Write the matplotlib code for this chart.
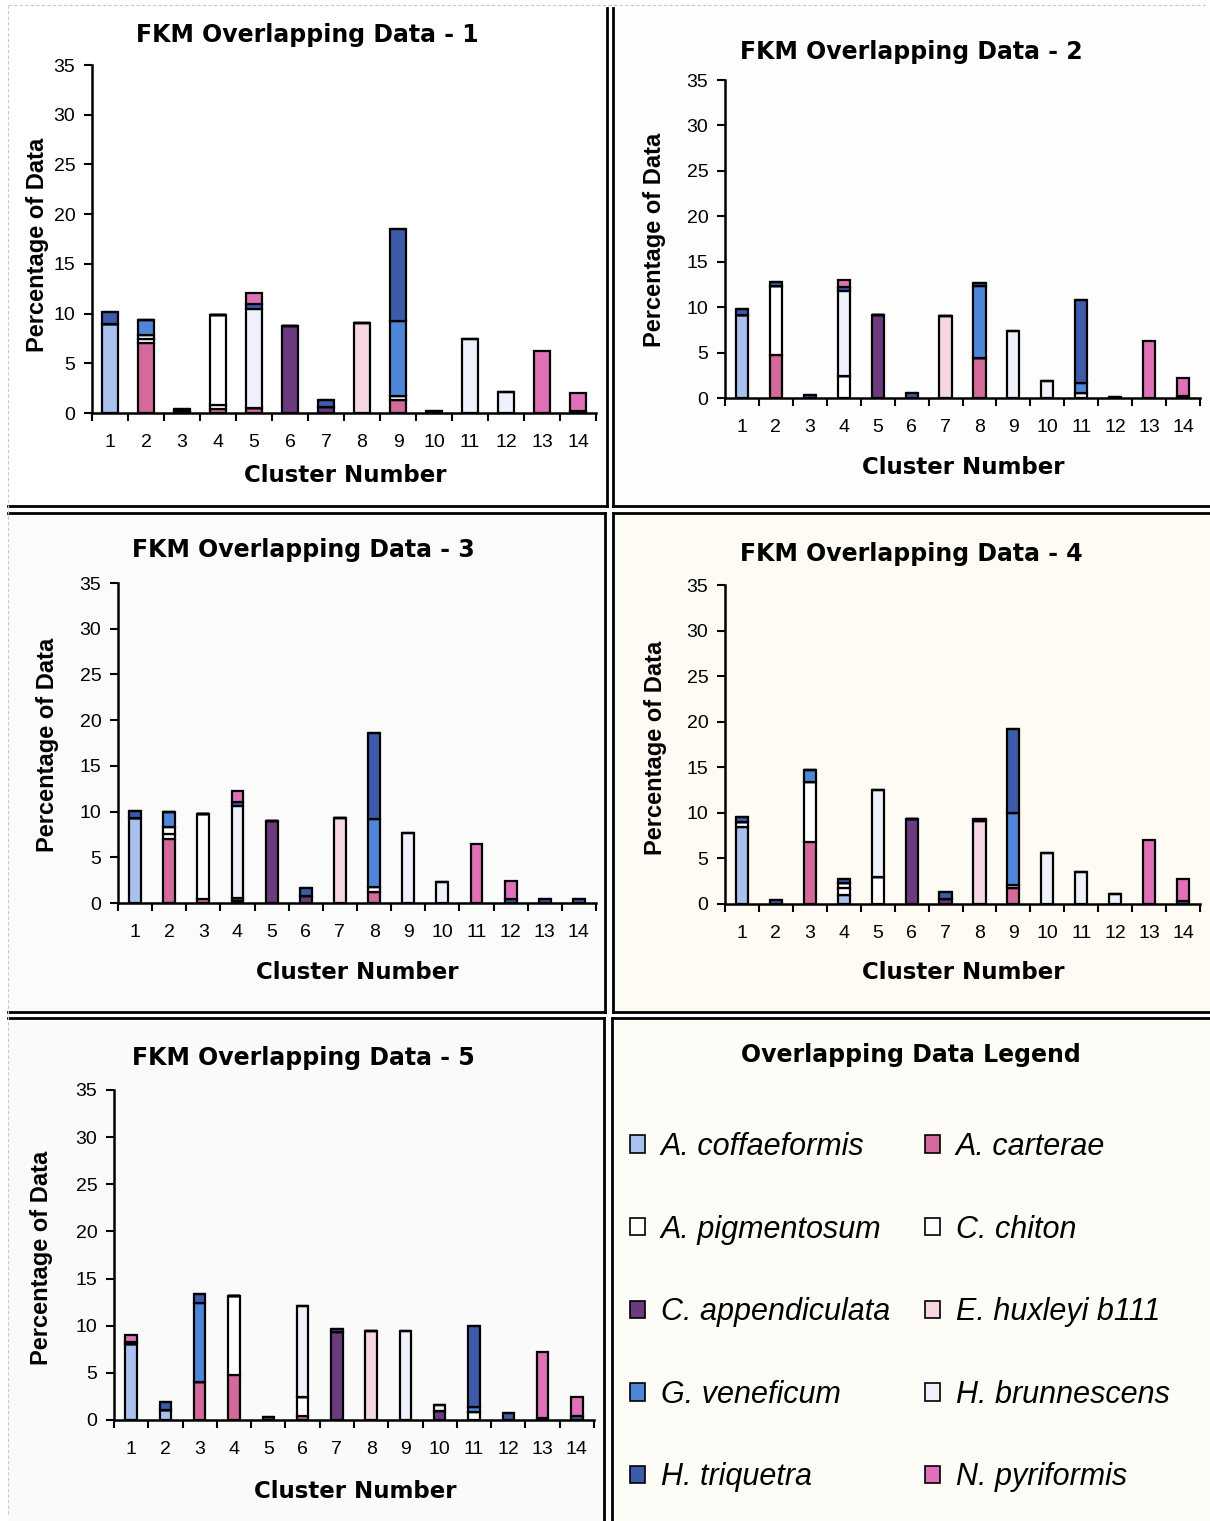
import matplotlib
matplotlib.use("Agg")
import matplotlib.pyplot as plt
from matplotlib.patches import Patch, Rectangle
from matplotlib.lines import Line2D
import numpy as np

# Species and colours (legend order)
Species = ["A. coffaeformis", "A. carterae", "A. pigmentosum", "C. chiton",
           "C. appendiculata", "E. huxleyi b111", "G. veneficum", "H. brunnescens",
           "H. triquetra", "N. pyriformis"]
Colours = ["#a9c1ee", "#d46a9c", "#ffffff", "#ffffff", "#6b3b7e",
           "#f6d6e0", "#4f86d9", "#eef0fb", "#3c5ba8", "#e070b8"]
Clusters = list(range(1, 15))
Y_Ticks = [0, 5, 10, 15, 20, 25, 30, 35]

# Percentage of data per species (rows, legend order) in each of the 14 clusters
Run1 = [
    [9.0, 0, 0, 0, 0, 0, 0, 0, 0, 0, 0, 0, 0, 0],
    [0, 7.0, 0, 0.4, 0.5, 0, 0, 0, 1.3, 0, 0, 0, 0, 0],
    [0, 0.4, 0, 0.4, 0, 0, 0, 0, 0, 0, 0, 0, 0, 0],
    [0, 0.4, 0, 9.1, 0, 0, 0, 0, 0.4, 0, 0, 0, 0, 0],
    [0, 0, 0.2, 0, 0, 8.8, 0.6, 0, 0, 0, 0, 0, 0, 0],
    [0, 0, 0, 0, 0, 0, 0, 9.1, 0, 0, 0, 0, 0, 0],
    [0, 1.6, 0, 0, 0, 0, 0, 0, 7.6, 0, 0, 0, 0, 0],
    [0, 0, 0, 0, 10.0, 0, 0, 0, 0, 0, 7.4, 2.1, 0, 0],
    [1.2, 0, 0.2, 0, 0.5, 0, 0.7, 0, 9.2, 0.2, 0, 0, 0, 0.2],
    [0, 0, 0, 0, 1.1, 0, 0, 0, 0, 0, 0, 0, 6.2, 1.8],
]
Run2 = [
    [9.1, 0, 0, 0, 0, 0, 0, 0, 0, 0, 0, 0, 0, 0],
    [0, 4.7, 0, 0, 0, 0, 0, 4.4, 0, 0, 0, 0, 0, 0],
    [0, 7.6, 0, 2.4, 0, 0, 0, 0, 0, 0, 0, 0, 0, 0],
    [0, 0, 0, 0, 0, 0, 0, 0, 0, 0, 0.6, 0, 0, 0],
    [0, 0, 0, 0, 9.1, 0, 0, 0, 0, 0, 0, 0, 0, 0],
    [0, 0, 0, 0, 0, 0, 9.0, 0, 0, 0, 0, 0, 0, 0],
    [0, 0, 0, 0, 0, 0, 0, 7.9, 0, 0, 1.0, 0, 0, 0],
    [0, 0, 0, 9.4, 0, 0, 0, 0, 7.4, 1.9, 0, 0, 0, 0],
    [0.7, 0.5, 0.3, 0.4, 0, 0.6, 0, 0.4, 0, 0, 9.2, 0.15, 0, 0.2],
    [0, 0, 0, 0.8, 0, 0, 0, 0, 0, 0, 0, 0, 6.3, 2.0],
]
Run3 = [
    [9.3, 0, 0, 0.2, 0, 0, 0, 0, 0, 0, 0, 0, 0, 0],
    [0, 7.0, 0.4, 0.3, 0, 0, 0, 1.2, 0, 0, 0, 0, 0, 0],
    [0, 0.5, 9.3, 0, 0, 0, 0, 0, 0, 0, 0, 0, 0, 0],
    [0, 0.8, 0, 0, 0, 0, 0, 0.5, 0, 0, 0, 0, 0, 0],
    [0, 0, 0, 0, 9.0, 0.8, 0, 0, 0, 0, 0, 0, 0, 0],
    [0, 0, 0, 0, 0, 0, 9.25, 0, 0, 0, 0, 0, 0, 0],
    [0, 1.6, 0, 0, 0, 0, 0, 7.5, 0, 0, 0, 0, 0, 0],
    [0, 0, 0, 10.1, 0, 0, 0, 0, 7.7, 2.3, 0, 0, 0, 0],
    [0.8, 0, 0, 0.5, 0, 0.8, 0, 9.35, 0, 0, 0, 0.4, 0.4, 0.4],
    [0, 0, 0, 1.2, 0, 0, 0, 0, 0, 0, 6.5, 2.0, 0, 0],
]
Run4 = [
    [8.5, 0, 0, 1.0, 0, 0, 0, 0, 0, 0, 0, 0, 0, 0],
    [0, 0, 6.8, 0, 0, 0, 0, 0, 1.8, 0, 0, 0, 0, 0],
    [0.5, 0, 6.6, 0.8, 3.0, 0, 0, 0, 0, 0, 0, 0, 0, 0],
    [0, 0, 0, 0.5, 0, 0, 0, 0, 0.3, 0, 0, 0, 0, 0],
    [0, 0, 0, 0, 0, 9.3, 0.6, 0, 0, 0, 0, 0, 0, 0],
    [0, 0, 0, 0, 0, 0, 0, 9.15, 0, 0, 0, 0, 0, 0],
    [0, 0, 1.3, 0, 0, 0, 0, 0, 7.9, 0, 0, 0, 0, 0],
    [0, 0, 0, 0, 9.5, 0, 0, 0, 0, 5.6, 3.5, 1.1, 0, 0],
    [0.6, 0.4, 0, 0.4, 0, 0, 0.75, 0.2, 9.2, 0, 0, 0, 0, 0.3],
    [0, 0, 0, 0, 0, 0, 0, 0, 0, 0, 0, 0, 7.0, 2.4],
]
Run5 = [
    [8.1, 1.1, 0, 0, 0, 0, 0, 0, 0, 0, 0, 0, 0, 0],
    [0, 0, 4.0, 4.8, 0, 0.4, 0, 0, 0, 0, 0, 0, 0, 0],
    [0, 0, 0, 8.3, 0, 2.0, 0, 0, 0, 0, 0, 0, 0, 0],
    [0, 0, 0, 0, 0, 0, 0, 0, 0, 0, 0.8, 0, 0, 0],
    [0, 0, 0, 0, 0, 0, 9.3, 0, 0, 1.0, 0, 0, 0, 0],
    [0, 0, 0, 0, 0, 0, 0, 9.45, 0, 0, 0, 0, 0, 0],
    [0, 0, 8.4, 0, 0, 0, 0, 0, 0, 0, 0.6, 0, 0, 0],
    [0, 0, 0, 0, 0, 9.7, 0, 0, 9.45, 0.6, 0, 0, 0, 0],
    [0.2, 0.85, 1.0, 0, 0.35, 0, 0.35, 0, 0, 0, 8.6, 0.7, 0.2, 0.4],
    [0.7, 0, 0, 0, 0, 0, 0, 0, 0, 0, 0, 0, 7.0, 2.0],
]
Runs = [Run1, Run2, Run3, Run4, Run5]

W, H = 1210, 1521
fig = plt.figure(figsize=(W / 100, H / 100), dpi=100)
fig.patch.set_facecolor("white")

def fig_x(px):
    return px / W

def fig_y(py):
    return 1 - py / H

def fig_line(x0, y0, x1, y1, **kw):
    fig.add_artist(Line2D([fig_x(x0), fig_x(x1)], [fig_y(y0), fig_y(y1)],
                          transform=fig.transFigure, **kw))

# Panel backgrounds (left, top, right, bottom in pixels)
Panels = [(8, 8, 606, 505), (613, 8, 1210, 505), (8, 513, 605, 1011),
          (613, 513, 1210, 1011), (8, 1018, 604, 1521), (612, 1018, 1210, 1521)]
Panel_Bg = ["#ffffff", "#fdfdfd", "#fbfbfb", "#fdfbf3", "#fafafa", "#fdfcf6"]
for (l, t, r, b), bg in zip(Panels, Panel_Bg):
    fig.add_artist(Rectangle((fig_x(l), fig_y(b)), (r - l) / W, (b - t) / H,
                             transform=fig.transFigure, facecolor=bg,
                             edgecolor="none", zorder=-5))

# Panel frames
frame = dict(color="black", lw=2.0)
fig_line(606.5, 8, 606.5, 505.5, **frame)
fig_line(8, 505.5, 606.5, 505.5, **frame)
fig_line(612.7, 8, 612.7, 505.5, **frame)
fig_line(612.7, 505.5, 1210, 505.5, **frame)
fig_line(8, 513.3, 605, 513.3, **frame)
fig_line(605, 513.3, 605, 1011.7, **frame)
fig_line(8, 1011.7, 605, 1011.7, **frame)
fig_line(612.7, 513.3, 1210, 513.3, **frame)
fig_line(612.5, 513.3, 612.5, 1011.7, **frame)
fig_line(612.5, 1011.7, 1210, 1011.7, **frame)
fig_line(8, 1018.3, 604.3, 1018.3, **frame)
fig_line(604.3, 1018.3, 604.3, 1521, **frame)
fig_line(612.3, 1018.3, 1210, 1018.3, **frame)
fig_line(612.3, 1018.3, 612.3, 1521, **frame)
faint = dict(color="#c8c8c8", lw=0.8, ls=(0, (3, 2)))
fig_line(8, 5, 1205, 5, **faint)
fig_line(8, 5, 8, 1515, **faint)

# Axes boxes (left, right, bottom, top in pixels), bar widths and text positions
Boxes = [(92, 596, 413, 65), (725, 1200, 398, 80), (118, 596, 903, 583),
         (725, 1200, 904, 585), (114, 594, 1420, 1090)]
Bar_Width = [0.42, 0.36, 0.35, 0.36, 0.33]
Title_Pos = [(307, 35), (911, 52), (303, 550), (911, 554), (303, 1058)]
YLab_Pos = [(38, 245), (655, 240), (48, 745), (656, 748), (42, 1258)]
XLab_Pos = [(345, 476), (963, 468), (357, 972), (963, 972), (355, 1491)]

for k, Run in enumerate(Runs):
    l, r, b, t = Boxes[k]
    ax = fig.add_axes([fig_x(l), fig_y(b), (r - l) / W, (b - t) / H])
    ax.set_facecolor("none")
    bottom = np.zeros(len(Clusters))
    for s in range(len(Species)):
        vals = np.array(Run[s], dtype=float)
        ax.bar(Clusters, vals, width=Bar_Width[k], bottom=bottom, color=Colours[s],
               edgecolor="black", linewidth=1.6, zorder=3)
        bottom += vals
    ax.set_xlim(0.5, 14.5)
    ax.set_ylim(0, 35)
    ax.set_yticks(Y_Ticks)
    ax.set_xticks(Clusters)
    ax.set_xticks(np.arange(0.5, 15, 1.0), minor=True)
    ax.tick_params(axis="x", which="major", length=0, pad=15, labelsize=14)
    ax.tick_params(axis="x", which="minor", length=6, width=1.5, direction="out")
    ax.tick_params(axis="y", length=6, width=1.5, direction="out", pad=6, labelsize=14)
    for lab in ax.get_xticklabels() + ax.get_yticklabels():
        lab.set_fontfamily("Liberation Sans")
    for side in ["top", "right"]:
        ax.spines[side].set_visible(False)
    for side in ["left", "bottom"]:
        ax.spines[side].set_linewidth(1.8)

    tx, ty = Title_Pos[k]
    fig.text(fig_x(tx), fig_y(ty), f"FKM Overlapping Data - {k + 1}", ha="center",
             va="center", fontsize=17, fontweight="bold", family="DejaVu Sans")
    yx, yy = YLab_Pos[k]
    fig.text(fig_x(yx), fig_y(yy), "Percentage of Data", rotation=90, ha="center",
             va="center", fontsize=17, fontweight="bold", family="Liberation Sans")
    xx, xy = XLab_Pos[k]
    fig.text(fig_x(xx), fig_y(xy), "Cluster Number", ha="center", va="center",
             fontsize=16.5, fontweight="bold", family="DejaVu Sans")

# Legend panel
fig.text(fig_x(911), fig_y(1055), "Overlapping Data Legend", ha="center", va="center",
         fontsize=17, fontweight="bold", family="DejaVu Sans")
Order = [0, 2, 4, 6, 8, 1, 3, 5, 7, 9]
Handles = [Patch(facecolor=Colours[i], edgecolor="black", linewidth=1.2,
                 label=Species[i]) for i in Order]
leg = fig.legend(handles=Handles, loc="upper left", ncol=2,
                 bbox_to_anchor=(fig_x(630), fig_y(1132)), frameon=False,
                 prop={"family": "Liberation Sans", "style": "italic", "size": 22},
                 handlelength=0.5, handleheight=0.5, handletextpad=0.5,
                 labelspacing=1.72, columnspacing=1.15, borderpad=0, borderaxespad=0)

fig.savefig("out.png", dpi=100)
